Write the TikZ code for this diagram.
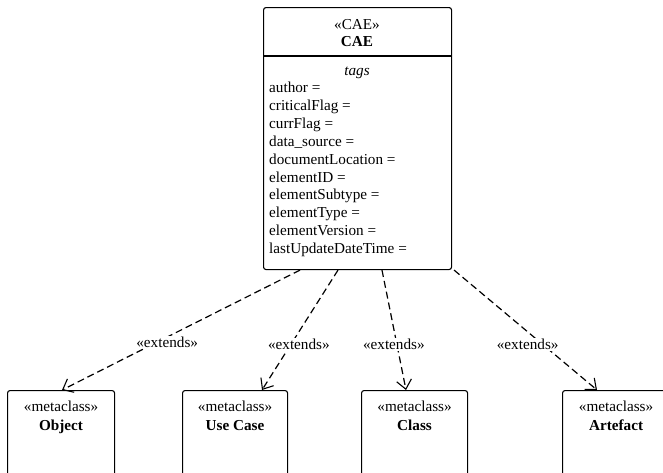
\documentclass[tikz,border=0pt]{standalone}
\usepackage{fontspec}
\setmainfont{Liberation Serif}
\usetikzlibrary{arrows.meta}
\begin{document}
\begin{tikzpicture}[x=1pt,y=-1pt,
  box/.style={draw, line width=1.1pt, rounded corners=2.5pt, inner sep=0pt, anchor=north west},
  txt/.style={inner sep=0pt, font=\fontsize{15.2}{17.9}\selectfont},
  bold/.style={txt, font=\fontsize{15.2}{17.9}\selectfont\bfseries},
  ext/.style={draw, line width=1.2pt, dash pattern=on 7pt off 4pt, -{Straight Barb[length=9pt,width=15pt,line width=1.1pt]}},
  lbl/.style={txt, fill=white, inner sep=1pt}]
\useasboundingbox (0,0) rectangle (663,472);
\clip (0,0) rectangle (663,472);
% CAE class
\node[box, minimum width=188, minimum height=262] (cae) at (263,7) {};
\draw[line width=1.1pt] (263,56) coordinate (dl) -- (451,56) coordinate (dr);
\node[txt, anchor=base] (caest) at (357,29) {«CAE»};
\node[bold, anchor=base] (caename) at (357,46.7) {CAE};
\node[txt, anchor=base] (tags) at (357,75) {\itshape tags};
\foreach \t [count=\i from 0] in {author =, criticalFlag =, currFlag =, data\_source =, documentLocation =, elementID =, elementSubtype =, elementType =, elementVersion =, lastUpdateDateTime =}
  \node[txt, anchor=base west] (tag\i) at (269,92.5+17.9*\i) {\t};
% metaclasses
\node[box, minimum width=107, minimum height=120] (obj) at (7,390) {};
\node[box, minimum width=105, minimum height=120] (uc) at (182,390) {};
\node[box, minimum width=106, minimum height=120] (cls) at (361,390) {};
\node[box, minimum width=107, minimum height=120] (art) at (562,390) {};
\foreach \n/\name in {obj/Object, uc/Use Case, cls/Class, art/Artefact}{
  \node[txt, anchor=base] (\n st) at ([yshift=-21.7]\n.north) {«metaclass»};
  \node[bold, anchor=base] (\n nm) at ([yshift=-40.5]\n.north) {\name};
}
% extends connectors
\path[ext] ([xshift=37]cae.south west) -- node[lbl, pos=0.6, xshift=10] (l1) {«extends»} ([xshift=55]obj.north west);
\path[ext] ([xshift=75]cae.south west) -- node[lbl, pos=0.62, xshift=8] (l2) {«extends»} ([xshift=80]uc.north west);
\path[ext] ([xshift=119]cae.south west) -- node[lbl, pos=0.62, xshift=-3] (l3) {«extends»} ([xshift=45]cls.north west);
\path[ext] ([xshift=2]cae.south east) -- node[lbl, pos=0.62, xshift=-15] (l4) {«extends»} ([xshift=35]art.north west);
\end{tikzpicture}
\end{document}
